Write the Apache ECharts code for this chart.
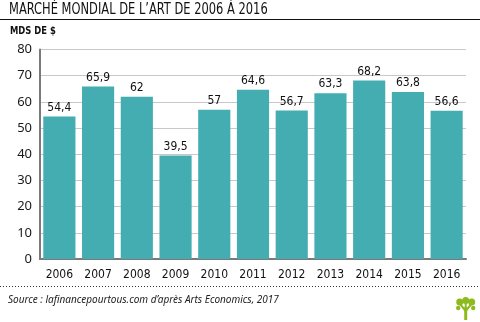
<!DOCTYPE html>
<html>
<head>
<meta charset="utf-8">
<script src="https://cdn.jsdelivr.net/npm/echarts@6/dist/echarts.min.js"></script>
<style>
  html, body { margin: 0; padding: 0; background: #fff; }
  #chart { width: 480px; height: 322px; }
</style>
</head>
<body>
<div id="chart"></div>
<script>
// Marché mondial de l'art, en milliards de dollars
const years = ['2006', '2007', '2008', '2009', '2010', '2011', '2012', '2013', '2014', '2015', '2016'];
const values = [54.4, 65.9, 62, 39.5, 57, 64.6, 56.7, 63.3, 68.2, 63.8, 56.6];
const yTicks = [0, 10, 20, 30, 40, 50, 60, 70, 80];

const chart = echarts.init(document.getElementById('chart'));
const condensed = '"DejaVu Sans Condensed", sans-serif';
const leafGreen = '#8dbb1e';

chart.setOption({
  animation: false,
  backgroundColor: '#ffffff',
  grid: { left: 40, right: 14, top: 49.5, bottom: 63, containLabel: false },
  xAxis: {
    type: 'category',
    data: years,
    axisLine: { show: true, lineStyle: { color: '#7a7a7a', width: 2 } },
    axisTick: { show: false },
    axisLabel: {
      interval: 0,
      color: '#111', fontFamily: condensed, fontSize: 12, margin: 10
    }
  },
  yAxis: {
    type: 'value',
    min: yTicks[0],
    max: yTicks[yTicks.length - 1],
    interval: 10,
    axisLine: { show: true, lineStyle: { color: '#7a7a7a', width: 2 } },
    axisTick: { show: false },
    splitLine: { lineStyle: { color: '#c8c8c8', width: 1 } },
    axisLabel: {
      color: '#1a1a1a', fontFamily: '"Noto Sans", sans-serif', fontSize: 13, margin: 8
    }
  },
  series: [{
    type: 'bar',
    data: values,
    barCategoryGap: '17%',
    itemStyle: { color: '#43adb2' },
    label: {
      show: true,
      position: 'top',
      distance: 3,
      color: '#111',
      fontFamily: condensed,
      fontSize: 12,
      formatter: p => String(p.value).replace('.', ',')
    }
  }],
  graphic: [
    {
      type: 'text', x: 9, y: 3, scaleX: 0.85,
      style: {
        text: 'MARCHÉ MONDIAL DE L’ART DE 2006 À 2016',
        fill: '#111', font: '15px ' + condensed
      }
    },
    {
      type: 'line', shape: { x1: 0, y1: 19.5, x2: 480, y2: 19.5 },
      style: { stroke: '#111', lineWidth: 1.2 }
    },
    {
      type: 'text', x: 10, y: 26, scaleX: 0.85,
      style: { text: 'MDS DE $', fill: '#111', font: 'bold 11px ' + condensed }
    },
    {
      type: 'line', shape: { x1: 0, y1: 286.5, x2: 480, y2: 286.5 },
      style: { stroke: '#333', lineWidth: 1, lineDash: [1, 2] }
    },
    {
      type: 'text', left: 8, top: 295,
      style: {
        text: 'Source : lafinancepourtous.com d’après Arts Economics, 2017',
        fill: '#222', font: 'italic 10px "Noto Sans", sans-serif'
      }
    },
    // petit arbre en bas à droite
    {
      type: 'group', left: 456, top: 297,
      children: [
        { type: 'rect', shape: { x: 8, y: 10, width: 3, height: 13 }, style: { fill: leafGreen } },
        { type: 'line', shape: { x1: 9.5, y1: 14, x2: 3, y2: 6 }, style: { stroke: leafGreen, lineWidth: 2 } },
        { type: 'line', shape: { x1: 9.5, y1: 14, x2: 16, y2: 6 }, style: { stroke: leafGreen, lineWidth: 2 } },
        { type: 'line', shape: { x1: 9.5, y1: 12, x2: 9.5, y2: 4 }, style: { stroke: leafGreen, lineWidth: 2 } },
        { type: 'circle', shape: { cx: 3.5, cy: 5, r: 3.5 }, style: { fill: leafGreen } },
        { type: 'circle', shape: { cx: 9.5, cy: 3.5, r: 3.5 }, style: { fill: leafGreen } },
        { type: 'circle', shape: { cx: 15.5, cy: 5, r: 3.5 }, style: { fill: leafGreen } },
        { type: 'circle', shape: { cx: 2, cy: 11, r: 2.2 }, style: { fill: leafGreen } },
        { type: 'circle', shape: { cx: 17, cy: 11, r: 2.2 }, style: { fill: leafGreen } }
      ]
    }
  ]
});
</script>
</body>
</html>
